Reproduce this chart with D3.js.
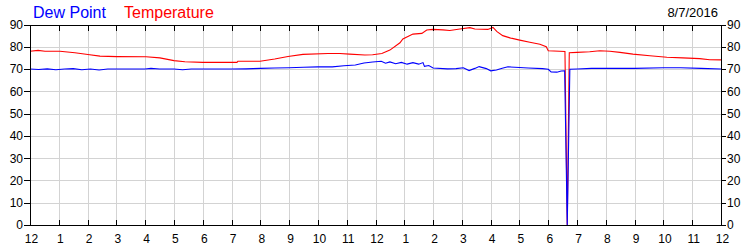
<!DOCTYPE html>
<html>
<head>
<meta charset="utf-8">
<script src="https://cdn.jsdelivr.net/npm/d3@7"></script>
<style>
  html, body { margin: 0; padding: 0; background: #fff; }
  svg { display: block; }
  text { font-family: "Liberation Sans", Arial, sans-serif; }
</style>
</head>
<body>
<div id="chart"></div>
<script>
// ---- Data ----
const seriesNames = ["Dew Point", "Temperature"];
const dateLabel = "8/7/2016";
const hourTicks = d3.range(0, 25);
const hourLabels = ["12","1","2","3","4","5","6","7","8","9","10","11","12","1","2","3","4","5","6","7","8","9","10","11","12"];
const valueTicks = [0, 10, 20, 30, 40, 50, 60, 70, 80, 90];

const tempHours = [0,0.28,0.52,1.04,1.56,2.01,2.43,3.02,4.03,4.51,5,5.38,6,7.19,7.22,7.99,8.5,8.96,9.48,10.35,10.76,11.1,11.63,11.9,12.22,12.5,12.85,12.95,13.3,13.61,13.78,13.99,14.34,14.58,14.93,15.28,15.45,15.9,16.08,16.22,16.42,16.67,17.01,17.36,17.71,17.93,18.0,18.58,18.66,18.73,19,19.44,19.79,20.14,20.49,20.94,21.53,22.12,22.67,23.26,23.61,24];
const temperature = [78,78.4,78,78,77.3,76.5,75.8,75.6,75.5,75,73.8,73.3,73,73,73.5,73.5,74.5,75.6,76.6,77,77,76.7,76.3,76.4,77,78.5,81.8,83.5,85.7,86,87.5,87.8,87.6,87.3,88,88.6,88,87.8,88.7,86.8,85,84,83,82,81.1,80,78.2,77.9,0,77.3,77.5,77.8,78.2,78,77.5,76.7,76,75.3,75,74.7,74.2,74.1];

const dewHours = [0,0.3,0.6,0.9,1.2,1.5,1.8,2.1,2.4,2.7,3,4,4.2,4.5,5,5.3,5.6,6,7,7.5,8,8.5,9,9.5,10,10.5,10.9,11.3,11.6,11.9,12.2,12.35,12.5,12.7,12.9,13.1,13.3,13.5,13.65,13.7,13.85,14,14.5,14.8,15.05,15.25,15.45,15.6,15.85,16,16.2,16.4,16.6,17,17.3,17.8,18,18.1,18.3,18.45,18.57,18.66,18.75,19,19.5,20,21,22,22.6,23.3,24];
const dewPoint = [70,69.8,70.1,69.7,70,70.2,69.7,70,69.6,70,70,70,70.3,70,70,69.7,70,70,70,70.1,70.3,70.5,70.6,70.8,71,71,71.5,71.8,72.7,73.2,73.5,72.6,73.2,72.4,73,72.2,72.9,72.2,72.9,71.2,71.6,70.5,70.1,70.2,70.6,69.3,70.3,71.1,70.2,69.2,69.6,70.4,71,70.7,70.5,70.2,69.9,68.7,68.6,69.1,69.2,0,69.9,70,70.3,70.3,70.3,70.6,70.6,70.3,70];

// ---- Layout ----
const W = 750, H = 250;
const mLeft = 30, mRight = 721, mTop = 24.5, mBottom = 225;

const svg = d3.select("#chart").append("svg").attr("width", W).attr("height", H);

const x = d3.scaleLinear().domain([0, 24]).range([mLeft, mRight]);
const y = d3.scaleLinear().domain([0, 90]).range([mBottom, mTop]);

// Gridlines
const grid = svg.append("g").attr("shape-rendering", "crispEdges");
grid.selectAll("line.v").data(hourTicks.slice(1, -1)).enter().append("line")
  .attr("x1", d => Math.round(x(d)) + 0.5).attr("x2", d => Math.round(x(d)) + 0.5)
  .attr("y1", y(90)).attr("y2", y(0))
  .attr("stroke", "#d3d3d3").attr("stroke-width", 1);
grid.selectAll("line.h").data(valueTicks.slice(1, -1)).enter().append("line")
  .attr("x1", x(0)).attr("x2", x(24))
  .attr("y1", d => Math.round(y(d)) + 0.5).attr("y2", d => Math.round(y(d)) + 0.5)
  .attr("stroke", "#d3d3d3").attr("stroke-width", 1);

// Lines
const line = d3.line().x(d => x(d[0])).y(d => y(d[1]));
const dewData = d3.zip(dewHours, dewPoint);
const tempData = d3.zip(tempHours, temperature);

svg.append("path").datum(tempData).attr("d", line)
  .attr("fill", "none").attr("stroke", "#ff0000").attr("stroke-width", 1.1);
svg.append("path").datum(dewData).attr("d", line)
  .attr("fill", "none").attr("stroke", "#0000ff").attr("stroke-width", 1.1);

// Axes
function styleAxis(g) {
  g.selectAll("path.domain").attr("stroke", "#000");
  g.selectAll(".tick line").attr("stroke", "#000");
  g.selectAll("text").attr("fill", "#000").attr("font-size", 12)
    .attr("font-family", '"Liberation Sans", Arial, sans-serif');
  g.attr("shape-rendering", "crispEdges");
}

svg.append("g").attr("transform", `translate(0,${mBottom})`)
  .call(d3.axisBottom(x).tickValues(hourTicks).tickFormat((d, i) => hourLabels[i])
    .tickSizeInner(-5).tickSizeOuter(0).tickPadding(9))
  .call(styleAxis)
  .call(g => g.selectAll("text").attr("dx", "1"));

svg.append("g").attr("transform", `translate(0,${mTop})`)
  .call(d3.axisTop(x).tickValues(hourTicks).tickFormat("")
    .tickSizeInner(-6).tickSizeOuter(0))
  .call(styleAxis);

svg.append("g").attr("transform", `translate(${mLeft},0)`)
  .call(d3.axisLeft(y).tickValues(valueTicks).tickSizeInner(6).tickSizeOuter(0).tickPadding(1))
  .call(styleAxis);

svg.append("g").attr("transform", `translate(${mRight},0)`)
  .call(d3.axisRight(y).tickValues(valueTicks).tickSizeInner(5).tickSizeOuter(0).tickPadding(1))
  .call(styleAxis);

// Legend
const legendColors = ["#0000ff", "#ff0000"];
const legendX = [33, 124];
svg.append("g").selectAll("text").data(seriesNames).enter().append("text")
  .attr("x", (d, i) => legendX[i]).attr("y", 18)
  .attr("font-size", 16).attr("fill", (d, i) => legendColors[i])
  .text(d => d);

svg.append("text").attr("x", 718).attr("y", 17).attr("text-anchor", "end")
  .attr("font-size", 13).attr("fill", "#000").text(dateLabel);
</script>
</body>
</html>
